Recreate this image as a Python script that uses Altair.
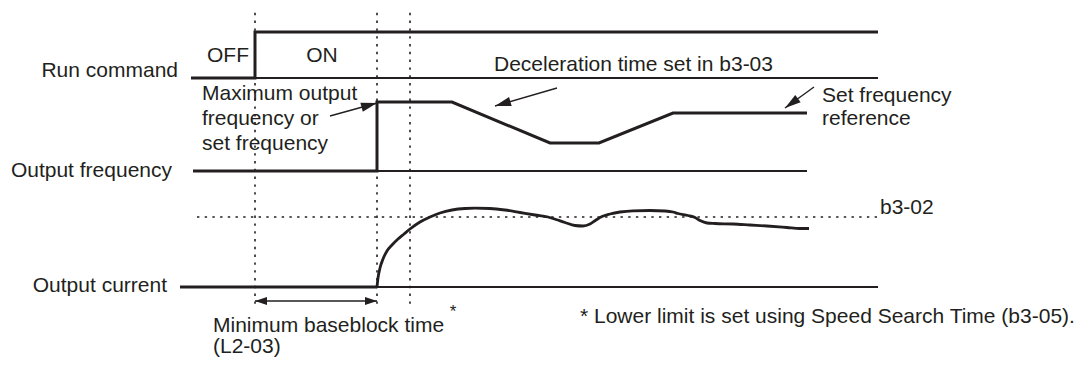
import math
import pandas as pd
import altair as alt

FONT = "Liberation Sans"
INK = "#231f20"

# ---- signal waveforms (time position, level position) ----
run_t = [191, 255, 255, 878]
run_v = [78, 78, 32, 32]

freq_t = [193, 377, 377, 452, 550, 599, 673, 807]
freq_v = [171, 171, 102, 102, 143, 143, 113, 113]

cur_flat_t = [180, 377]
cur_flat_v = [287, 287]

cur_t = [377, 378, 380, 383, 387, 392, 398, 404, 410, 420, 430, 440, 452, 465, 475,
         490, 505, 520, 535, 548, 556, 565, 575, 583, 590, 596, 602, 610, 620,
         633, 650, 665, 673, 678, 688, 695, 700, 707, 715, 733, 750, 767, 787,
         800, 809]
cur_v = [287, 278, 268, 259, 251, 245, 239, 234, 229, 222, 217, 213, 210, 208.5, 208.2,
         208.5, 210, 212.5, 215, 217, 219.5, 222.5, 225.5, 226, 224, 220, 216.5, 214, 212,
         210.8, 210.5, 211, 212, 213.5, 215.5, 217.5, 220.5, 223, 223.5, 224, 225, 226, 227.5,
         228.5, 228.5]

# ---- signal baselines ----
base_t0 = [191, 193, 180]
base_t1 = [878, 807, 878]
base_v = [78, 171, 287]

# ---- dotted timing markers ----
mark_t = [255, 377, 410]
mark_v0 = [5, 5, 5]
mark_v1 = [307, 307, 307]

lvl_t0 = [197]
lvl_t1 = [878]
lvl_v = [217]

# ---- annotation arrows (tail -> head) ----
arr_t0 = [557, 814, 330, 316, 316]
arr_v0 = [88, 87, 116, 301, 301]
arr_t1 = [495, 785, 377, 255, 377]
arr_v1 = [106, 108, 103, 301, 301]

# ---- texts ----
lbl_left = ["Deceleration time set in b3-03", "Maximum output", "frequency or",
            "set frequency", "Set frequency", "reference", "b3-02",
            "Minimum baseblock time", "(L2-03)",
            "* Lower limit is set using Speed Search Time (b3-05)."]
lbl_left_t = [494, 202, 202, 202, 822, 822, 880, 213, 213, 580]
lbl_left_v = [71, 100, 125, 150, 102, 125, 214, 332, 353, 323]

lbl_right = ["Run command", "Output frequency", "Output current"]
lbl_right_t = [178, 172, 167]
lbl_right_v = [77, 177, 292]

lbl_center = ["OFF", "ON"]
lbl_center_t = [228, 322]
lbl_center_v = [62, 62]

star_t = [453]
star_v = [317]

# ---------------------------------------------------------------
XS = alt.Scale(domain=[8, 1078], nice=False, zero=False)
YS = alt.Scale(domain=[8, 358], nice=False, zero=False, reverse=True)


def X(f):
    return alt.X(f"{f}:Q", scale=XS, axis=None)


def Y(f):
    return alt.Y(f"{f}:Q", scale=YS, axis=None)


rows = []
for name, ts, vs in [("run", run_t, run_v), ("freq", freq_t, freq_v),
                     ("curflat", cur_flat_t, cur_flat_v)]:
    for i, (t, v) in enumerate(zip(ts, vs)):
        rows.append({"sig": name, "t": t, "v": v, "o": i})
wave_df = pd.DataFrame(rows)
cur_df = pd.DataFrame({"t": cur_t, "v": cur_v, "o": list(range(len(cur_t)))})

base_df = pd.DataFrame({"t0": base_t0, "t1": base_t1, "v": base_v})
mark_df = pd.DataFrame({"t": mark_t, "v0": mark_v0, "v1": mark_v1})
lvl_df = pd.DataFrame({"t0": lvl_t0, "t1": lvl_t1, "v": lvl_v})

arr_df = pd.DataFrame({"t0": arr_t0, "v0": arr_v0, "t1": arr_t1, "v1": arr_v1})
arr_df["ang"] = [math.degrees(math.atan2(b - a, d - c)) % 360
                 for a, b, c, d in zip(arr_df.v0, arr_df.v1, arr_df.t0, arr_df.t1)]
arr_df["big"] = [1, 1, 1, 0, 0]

baselines = alt.Chart(base_df).mark_rule(color=INK, strokeWidth=2).encode(
    x=X("t0"), x2="t1", y=Y("v"))

waves = alt.Chart(wave_df).mark_line(color=INK, strokeWidth=3, strokeJoin="miter").encode(
    x=X("t"), y=Y("v"), detail="sig:N", order="o:Q")

current = alt.Chart(cur_df).mark_line(color=INK, strokeWidth=2.8, interpolate="monotone").encode(
    x=X("t"), y=Y("v"), order="o:Q")

markers = alt.Chart(mark_df).mark_rule(color=INK, strokeWidth=1.6, strokeDash=[2.4, 5.4]).encode(
    x=X("t"), y=Y("v0"), y2="v1")

level = alt.Chart(lvl_df).mark_rule(color=INK, strokeWidth=1.6, strokeDash=[2.4, 5.3]).encode(
    x=X("t0"), x2="t1", y=Y("v"))

arrow_lines = alt.Chart(arr_df).mark_rule(color=INK, strokeWidth=1.4).encode(
    x=X("t0"), x2="t1", y=Y("v0"), y2="v1")

head_big = alt.Chart(arr_df).transform_filter("datum.big == 1").mark_point(
    shape="M0,0L-4,-1.15L-4,1.15Z", filled=True, size=64, color=INK, opacity=1,
    strokeWidth=0).encode(x=X("t1"), y=Y("v1"), angle=alt.Angle("ang:Q", scale=None))

head_small = alt.Chart(arr_df).transform_filter("datum.big == 0").mark_point(
    shape="M0,0L-3,-1L-3,1Z", filled=True, size=64, color=INK, opacity=1,
    strokeWidth=0).encode(x=X("t1"), y=Y("v1"), angle=alt.Angle("ang:Q", scale=None))

left_df = pd.DataFrame({"label": lbl_left, "t": lbl_left_t, "v": lbl_left_v})
right_df = pd.DataFrame({"label": lbl_right, "t": lbl_right_t, "v": lbl_right_v})
center_df = pd.DataFrame({"label": lbl_center, "t": lbl_center_t, "v": lbl_center_v})
star_df = pd.DataFrame({"label": ["*"], "t": star_t, "v": star_v})

txt_kw = dict(font=FONT, fontSize=21, color=INK, baseline="alphabetic")
t_left = alt.Chart(left_df).mark_text(align="left", **txt_kw).encode(
    x=X("t"), y=Y("v"), text="label:N")
t_right = alt.Chart(right_df).mark_text(align="right", **txt_kw).encode(
    x=X("t"), y=Y("v"), text="label:N")
t_center = alt.Chart(center_df).mark_text(align="center", **txt_kw).encode(
    x=X("t"), y=Y("v"), text="label:N")
t_star = alt.Chart(star_df).mark_text(align="center", font=FONT, fontSize=17, color=INK,
                                      baseline="alphabetic").encode(
    x=X("t"), y=Y("v"), text="label:N")

chart = alt.layer(
    markers, level, baselines, waves, current, arrow_lines, head_big, head_small,
    t_left, t_right, t_center, t_star
).properties(
    width=1070, height=350, padding=0, autosize="none", background="white"
).configure_view(stroke=None)

chart.save("out.html", embed_options={"renderer": "svg", "actions": False})
